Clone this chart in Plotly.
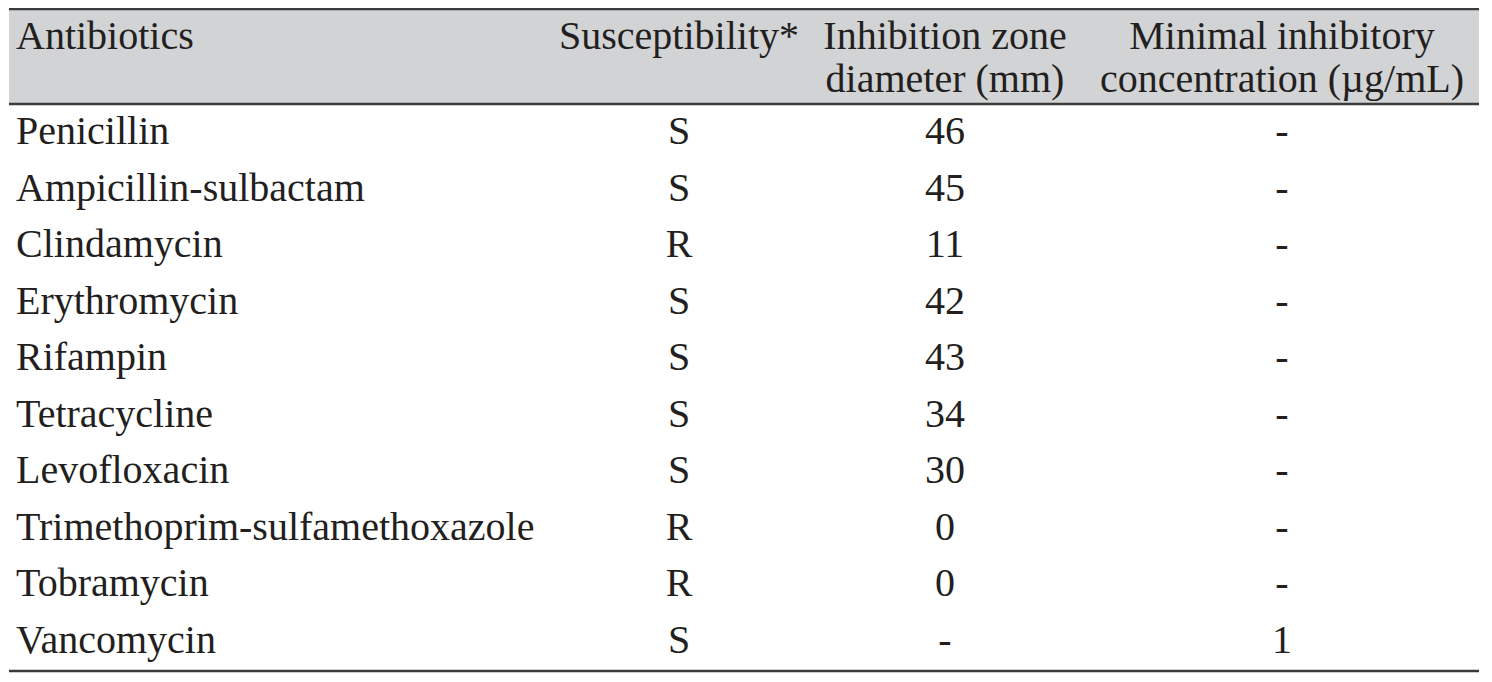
import plotly.graph_objects as go

# ---- data ----
header_line1 = ["Antibiotics", "Susceptibility*", "Inhibition zone", "Minimal inhibitory"]
header_line2 = ["", "", "diameter (mm)", "concentration (µg/mL)"]

antibiotics = ["Penicillin", "Ampicillin-sulbactam", "Clindamycin", "Erythromycin", "Rifampin",
               "Tetracycline", "Levofloxacin", "Trimethoprim-sulfamethoxazole", "Tobramycin", "Vancomycin"]
susceptibility = ["S", "S", "R", "S", "S", "S", "S", "R", "R", "S"]
zone_diameter_mm = ["46", "45", "11", "42", "43", "34", "30", "0", "0", "-"]
mic_ug_ml = ["-", "-", "-", "-", "-", "-", "-", "-", "-", "1"]

# ---- layout constants ----
W, H = 1492, 682
PAGE_MARGIN = 8  # default body margin of the html page
FS = 40
FONT = "Liberation Serif, Times New Roman, serif"
TXT = "#231f20"
RULE = "#3a3a3a"
HEAD_BG = "#d1d3d4"
LEFT, RIGHT = 9, 1479
TOP_RULE, HEAD_RULE, BOTTOM_RULE = 9, 104, 671
COL_X = [16, 679, 945, 1282]
COL_POS = ["middle right", "middle center", "middle center", "middle center"]
HEAD_CENTER = [39, 81.5]
ROW_CENTER0, ROW_H = 134, 56.55

columns = [antibiotics, susceptibility, zone_diameter_mm, mic_ug_ml]

fig = go.Figure()

# header text
for line_idx, line in enumerate([header_line1, header_line2]):
    for c, label in enumerate(line):
        if not label:
            continue
        fig.add_trace(go.Scatter(
            x=[COL_X[c]], y=[HEAD_CENTER[line_idx]], mode="text", text=[label],
            textposition=COL_POS[c], textfont=dict(family=FONT, size=FS, color=TXT),
            hoverinfo="skip", showlegend=False, cliponaxis=False))

# body text
for c, col in enumerate(columns):
    ys = [ROW_CENTER0 + i * ROW_H for i in range(len(col))]
    fig.add_trace(go.Scatter(
        x=[COL_X[c]] * len(col), y=ys, mode="text", text=col,
        textposition=COL_POS[c], textfont=dict(family=FONT, size=FS, color=TXT),
        hoverinfo="skip", showlegend=False, cliponaxis=False))

shapes = [
    dict(type="rect", xref="x", yref="y", x0=LEFT, x1=RIGHT, y0=TOP_RULE, y1=HEAD_RULE,
         fillcolor=HEAD_BG, line=dict(width=0), layer="below"),
]
for yy in (TOP_RULE, HEAD_RULE, BOTTOM_RULE):
    shapes.append(dict(type="line", xref="x", yref="y", x0=LEFT, x1=RIGHT, y0=yy, y1=yy,
                       line=dict(color=RULE, width=2.5)))

fig.update_layout(
    width=W - 2 * PAGE_MARGIN, height=H - 2 * PAGE_MARGIN, margin=dict(l=0, r=0, t=0, b=0),
    paper_bgcolor="white", plot_bgcolor="white",
    xaxis=dict(range=[PAGE_MARGIN, W - PAGE_MARGIN], visible=False, fixedrange=True),
    yaxis=dict(range=[H - PAGE_MARGIN, PAGE_MARGIN], visible=False, fixedrange=True),
    shapes=shapes,
)

fig.write_html("out.html")
